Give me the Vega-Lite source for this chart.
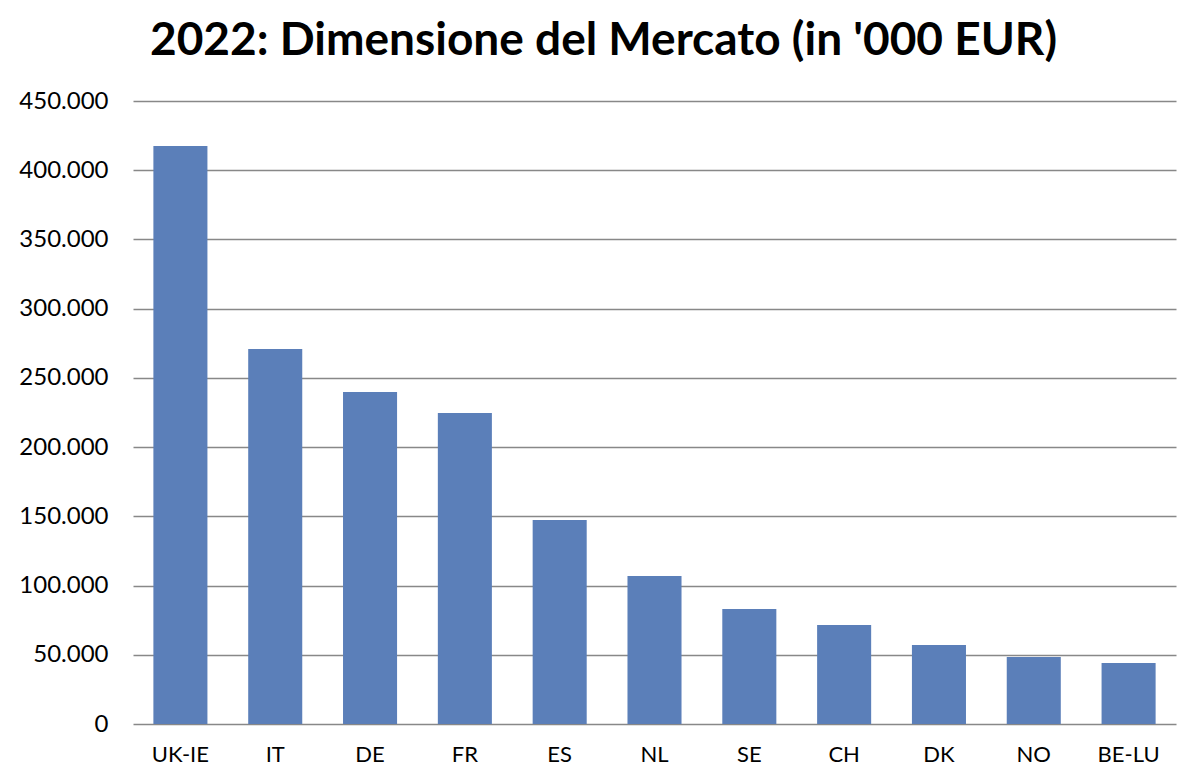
{
  "$schema": "https://vega.github.io/schema/vega-lite/v6.json",
  "autosize": "none",
  "width": 1043,
  "height": 623,
  "padding": {"left": 133, "top": 101, "right": 24, "bottom": 60},
  "background": "white",
  "title": {
    "text": "2022: Dimensione del Mercato (in '000 EUR)",
    "font": "Lato",
    "fontSize": 46,
    "fontWeight": "bold",
    "color": "#000000",
    "anchor": "middle",
    "dx": -51,
    "offset": 24
  },
  "data": {
    "values": [
      {"paese": "UK-IE", "valore": 417500},
      {"paese": "IT", "valore": 270900},
      {"paese": "DE", "valore": 239800},
      {"paese": "FR", "valore": 224600},
      {"paese": "ES", "valore": 147400},
      {"paese": "NL", "valore": 106900},
      {"paese": "SE", "valore": 83100},
      {"paese": "CH", "valore": 71500},
      {"paese": "DK", "valore": 57100},
      {"paese": "NO", "valore": 48400},
      {"paese": "BE-LU", "valore": 44100}
    ]
  },
  "mark": {"type": "bar", "color": "#5B7FB9"},
  "encoding": {
    "x": {
      "field": "paese",
      "type": "nominal",
      "sort": null,
      "scale": {"paddingInner": 0.43, "paddingOuter": 0.215},
      "axis": {
        "title": null,
        "labelAngle": 0,
        "labelFont": "Lato",
        "labelFontSize": 22,
        "labelColor": "#000000",
        "labelPadding": 20,
        "ticks": false,
        "domain": false
      }
    },
    "y": {
      "field": "valore",
      "type": "quantitative",
      "scale": {"domain": [0, 450000], "nice": false},
      "axis": {
        "title": null,
        "values": [0, 50000, 100000, 150000, 200000, 250000, 300000, 350000, 400000, 450000],
        "format": ",d",
        "labelFont": "Lato",
        "labelFontSize": 24,
        "labelColor": "#000000",
        "labelPadding": 25,
        "ticks": false,
        "domain": false,
        "grid": true,
        "gridColor": "#888888",
        "gridWidth": 1.5
      }
    }
  },
  "config": {
    "view": {"stroke": null},
    "locale": {
      "number": {"decimal": ",", "thousands": ".", "grouping": [3], "currency": ["€", ""]}
    }
  }
}
